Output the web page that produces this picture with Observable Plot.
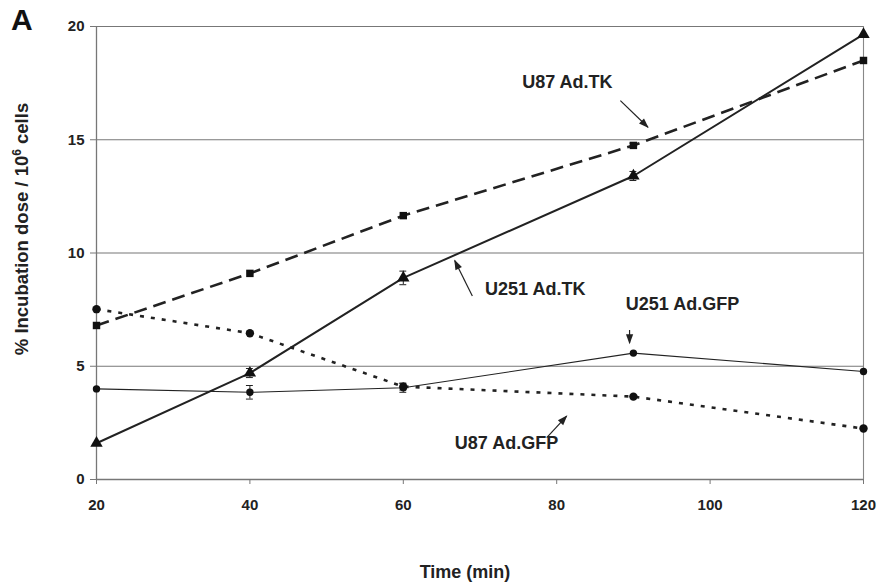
<!DOCTYPE html>
<html><head><meta charset="utf-8">
<script src="https://cdn.jsdelivr.net/npm/d3@7"></script>
<script src="https://cdn.jsdelivr.net/npm/@observablehq/plot@0.6"></script>
<style>body{margin:0;background:#fff}#c{font-family:"Liberation Sans",Arial,sans-serif}</style>
</head><body><div id="c"></div>
<script>
const times = [20, 40, 60, 90, 120];
const u87TK = [6.8, 9.1, 11.65, 14.75, 18.5];
const u251TK = [1.6, 4.7, 8.9, 13.4, 19.65];
const u251GFP = [4.0, 3.85, 4.05, 5.58, 4.77];
const u87GFP = [7.52, 6.46, 4.1, 3.66, 2.25];
const u251TKerr = [0.05, 0.2, 0.3, 0.2, 0.05];
const u251GFPerr = [0.05, 0.3, 0.2, 0.05, 0.05];
const u87TKerr = [0.05, 0.05, 0.05, 0.1, 0.05];
const u87GFPerr = [0.05, 0.05, 0.15, 0.05, 0.05];
const xTicks = [20, 40, 60, 80, 100, 120];
const yTicks = [0, 5, 10, 15, 20];
const gridY = [5, 10, 15, 20];

const seriesDefs = [
  {name: "U87 Ad.TK", vals: u87TK, err: u87TKerr, sym: "square", w: 2.6, dash: "13,7", r: 4.2},
  {name: "U251 Ad.TK", vals: u251TK, err: u251TKerr, sym: "triangle", w: 2.0, dash: null, r: 4.6},
  {name: "U251 Ad.GFP", vals: u251GFP, err: u251GFPerr, sym: "circle", w: 1.1, dash: null, r: 3.7},
  {name: "U87 Ad.GFP", vals: u87GFP, err: u87GFPerr, sym: "circle", w: 2.6, dash: "4,7", r: 4.2}
];
const rows = s => times.map((t, i) => ({t, v: s.vals[i], e: s.err[i], s: s.name}));

const labelNames = ["U87 Ad.TK", "U251 Ad.TK", "U251 Ad.GFP", "U87 Ad.GFP"];
const labelX = [81.4, 77.2, 96.4, 73.45];
const labelY = [17.55, 8.39, 7.73, 1.59];
const arrowX1 = [88.3, 69.0, 89.5, 78.7];
const arrowY1 = [16.73, 8.1, 6.6, 1.85];
const arrowX2 = [91.9, 66.7, 89.5, 81.3];
const arrowY2 = [15.55, 9.67, 6.02, 2.8];
const labels = labelNames.map((n, i) => ({n, x: labelX[i], y: labelY[i]}));
const arrows = labelNames.map((n, i) => ({x1: arrowX1[i], y1: arrowY1[i], x2: arrowX2[i], y2: arrowY2[i]}));

const marks = [
  Plot.ruleY(gridY, {stroke: "#777", strokeWidth: 1.1}),
  Plot.ruleX([120], {y1: 0, y2: 20, stroke: "#888", strokeWidth: 1.1}),
  Plot.ruleX([20], {y1: 0, y2: 20, stroke: "#777", strokeWidth: 1.3}),
  Plot.ruleY([0], {stroke: "#777", strokeWidth: 1.3})
];
for (const s of seriesDefs) {
  const d = rows(s);
  const ed = d.filter(r => r.e > 0.08);
  marks.push(Plot.line(d, {x: "t", y: "v", stroke: "#222", strokeWidth: s.w, strokeDasharray: s.dash, strokeLinecap: "butt"}));
  marks.push(Plot.ruleX(ed, {x: "t", y1: r => r.v - r.e, y2: r => r.v + r.e, stroke: "#222", strokeWidth: 1}));
  marks.push(Plot.ruleY(ed, {y: r => r.v + r.e, x1: r => r.t - 0.45, x2: r => r.t + 0.45, stroke: "#222", strokeWidth: 1}));
  marks.push(Plot.ruleY(ed, {y: r => r.v - r.e, x1: r => r.t - 0.45, x2: r => r.t + 0.45, stroke: "#222", strokeWidth: 1}));
  marks.push(Plot.dot(d, {x: "t", y: "v", symbol: () => s.sym, fill: "#111", stroke: "none", r: s.r}));
}
marks.push(Plot.link(arrows, {x1: "x1", y1: "y1", x2: "x2", y2: "y2", stroke: "#222", strokeWidth: 1.2, markerEnd: "arrow"}));
marks.push(Plot.text(labels, {x: "x", y: "y", text: "n", fontSize: 18, fontWeight: "bold", fill: "#222"}));
marks.push(Plot.axisX(xTicks, {tickSize: 5, tickPadding: 15, fontSize: 15, fontWeight: "bold", stroke: "#777", fill: "#222", label: null}));
marks.push(Plot.axisY(yTicks, {tickSize: 6, tickPadding: 6, fontSize: 15, fontWeight: "bold", stroke: "#777", fill: "#222", label: null}));

const chart = Plot.plot({
  width: 891, height: 586,
  marginLeft: 96, marginRight: 28, marginTop: 26, marginBottom: 107,
  style: {fontFamily: "Liberation Sans, Arial, sans-serif", background: "#fff"},
  x: {type: "linear", domain: [20, 120]},
  y: {type: "linear", domain: [0, 20]},
  marks
});
document.getElementById("c").appendChild(chart);
const svg = d3.select(chart);
// filled triangular arrowheads
svg.selectAll("marker")
  .attr("viewBox", "-10 -10 20 20")
  .attr("markerUnits", "userSpaceOnUse")
  .attr("markerWidth", 20).attr("markerHeight", 20)
  .attr("refX", 0).attr("refY", 0)
  .attr("overflow", "visible");
svg.selectAll("marker path").attr("d", "M-9,-3.6L1,0L-9,3.6Z").attr("fill", "#222").attr("stroke", "none");
const ff = "Liberation Sans, Arial, sans-serif";
svg.append("text").attr("x", 11).attr("y", 30).attr("text-anchor", "start").attr("font-size", 30).attr("font-weight", "bold")
  .attr("fill", "#111").attr("font-family", ff).text("A");
svg.append("text").attr("x", 465).attr("y", 578).attr("text-anchor", "middle").attr("font-size", 18)
  .attr("font-weight", "bold").attr("fill", "#222").attr("font-family", ff).text("Time (min)");
const yl = svg.append("text").attr("transform", "translate(28,229) rotate(-90)").attr("text-anchor", "middle")
  .attr("font-size", 18.5).attr("font-weight", "bold").attr("fill", "#222").attr("font-family", ff);
yl.append("tspan").text("% Incubation dose / 10");
yl.append("tspan").attr("dy", -7).attr("font-size", 12).text("6");
yl.append("tspan").attr("dy", 7).text(" cells");
</script></body></html>
